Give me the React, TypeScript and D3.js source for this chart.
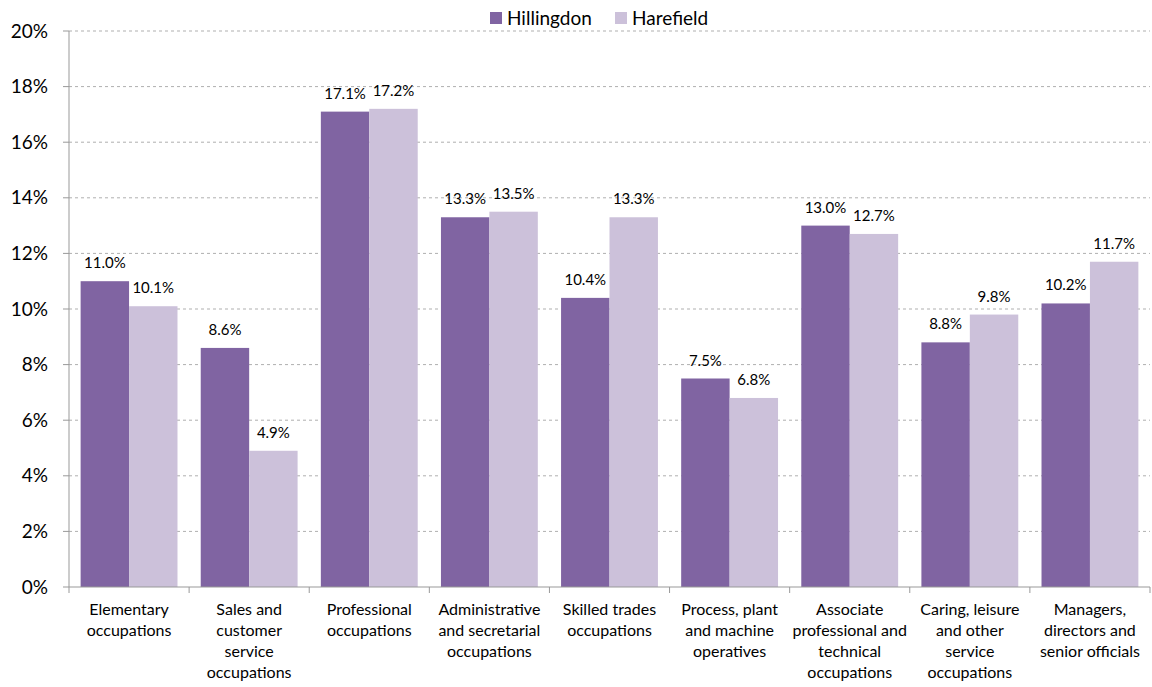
import React from "react";
import * as d3 from "d3";

const categories: string[][] = [
  ["Elementary", "occupations"],
  ["Sales and", "customer", "service", "occupations"],
  ["Professional", "occupations"],
  ["Administrative", "and secretarial", "occupations"],
  ["Skilled trades", "occupations"],
  ["Process, plant", "and machine", "operatives"],
  ["Associate", "professional and", "technical", "occupations"],
  ["Caring, leisure", "and other", "service", "occupations"],
  ["Managers,", "directors and", "senior officials"],
];
const hillingdon = [11.0, 8.6, 17.1, 13.3, 10.4, 7.5, 13.0, 8.8, 10.2];
const harefield = [10.1, 4.9, 17.2, 13.5, 13.3, 6.8, 12.7, 9.8, 11.7];
const seriesNames = ["Hillingdon", "Harefield"];
const colors = ["#8064A2", "#CCC1DA"];
const yTicks = [0, 2, 4, 6, 8, 10, 12, 14, 16, 18, 20];

const W = 1152, H = 687;
const left = 69, right = 1150, top = 31, bottom = 587;
const font = "Lato, 'Open Sans', sans-serif";

export default function App() {
  const x = d3.scaleBand<number>().domain(d3.range(categories.length)).range([left, right]).paddingInner(0).paddingOuter(0);
  const x1 = d3.scaleBand<number>().domain([0, 1]).range([0, x.bandwidth()]).paddingInner(0).paddingOuter(0.24);
  const y = d3.scaleLinear().domain([0, 20]).range([bottom, top]);
  const series = [hillingdon, harefield];
  return (
    <svg width={W} height={H} style={{ display: "block", position: "absolute", left: 0, top: 0 }} fontFamily={font}>
      <rect width={W} height={H} fill="#fff" />
      {yTicks.map((t) => (
        <g key={t}>
          {t > 0 && <line x1={left} x2={right} y1={y(t)} y2={y(t)} stroke="#AFAFAF" strokeDasharray="3,3" strokeWidth={1} />}
          <line x1={left - 6} x2={left} y1={y(t)} y2={y(t)} stroke="#999" />
          <text x={48} y={y(t)} dy="0.35em" textAnchor="end" fontSize={19} fill="#000">{t}%</text>
        </g>
      ))}
      {series.map((vals, si) =>
        vals.map((v, i) => {
          const bx = (x(i) as number) + (x1(si) as number);
          return (
            <g key={`${si}-${i}`}>
              <rect x={bx} y={y(v)} width={x1.bandwidth()} height={bottom - y(v)} fill={colors[si]} />
              <text x={bx + x1.bandwidth() / 2} y={y(v) - 13} textAnchor="middle" fontSize={15} fill="#000">{v.toFixed(1)}%</text>
            </g>
          );
        })
      )}
      <line x1={left} x2={left} y1={top} y2={bottom} stroke="#999" />
      <line x1={left} x2={right} y1={bottom} y2={bottom} stroke="#999" />
      {d3.range(categories.length + 1).map((i) => {
        const tx = i < categories.length ? (x(i) as number) : right;
        return <line key={i} x1={tx} x2={tx} y1={bottom} y2={bottom + 6} stroke="#999" />;
      })}
      {categories.map((lines, i) => (
        <text key={i} textAnchor="middle" fontSize={16} fill="#000">
          {lines.map((l, j) => (
            <tspan key={j} x={(x(i) as number) + x.bandwidth() / 2} y={615 + j * 21}>{l}</tspan>
          ))}
        </text>
      ))}
      <g>
        <rect x={490} y={12} width={12} height={12} fill={colors[0]} />
        <text x={507} y={18} dy="0.35em" fontSize={19} fill="#000">{seriesNames[0]}</text>
        <rect x={615} y={12} width={12} height={12} fill={colors[1]} />
        <text x={632} y={18} dy="0.35em" fontSize={19} fill="#000">{seriesNames[1]}</text>
      </g>
    </svg>
  );
}
